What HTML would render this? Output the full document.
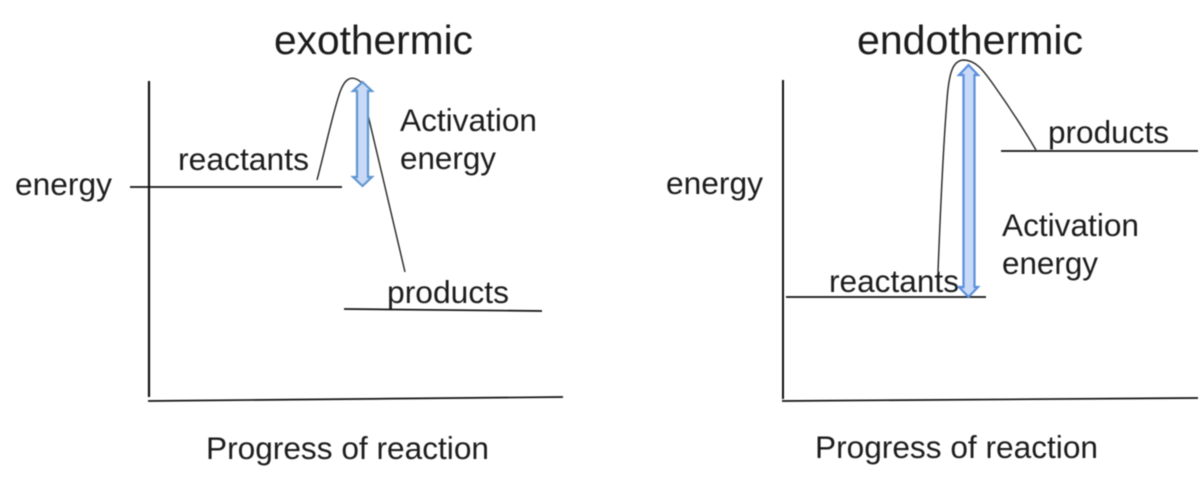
<!DOCTYPE html>
<html>
<head>
<meta charset="utf-8">
<style>
html,body{margin:0;padding:0;background:#fff;width:1200px;height:492px;overflow:hidden}
svg{display:block;filter:blur(0.4px)}
text{font-family:"Liberation Sans",Arial,sans-serif;fill:#1c1c1c}
</style>
</head>
<body>
<svg width="1200" height="492" viewBox="0 0 1200 492" xmlns="http://www.w3.org/2000/svg">
<g font-size="40.5">
<text x="274" y="54" textLength="199" lengthAdjust="spacingAndGlyphs">exothermic</text>
<text x="857" y="54" textLength="226" lengthAdjust="spacingAndGlyphs">endothermic</text>
</g>
<g font-size="31.5">
<text x="400" y="131" textLength="137" lengthAdjust="spacingAndGlyphs">Activation</text>
<text x="400" y="169" textLength="96" lengthAdjust="spacingAndGlyphs">energy</text>
<text x="1002" y="236" textLength="137" lengthAdjust="spacingAndGlyphs">Activation</text>
<text x="1002" y="274" textLength="96" lengthAdjust="spacingAndGlyphs">energy</text>
<text x="178" y="170" textLength="131" lengthAdjust="spacingAndGlyphs">reactants</text>
<text x="387" y="303" textLength="122" lengthAdjust="spacingAndGlyphs">products</text>
<text x="829" y="292" textLength="130" lengthAdjust="spacingAndGlyphs">reactants</text>
<text x="1048" y="143" textLength="121" lengthAdjust="spacingAndGlyphs">products</text>
<text x="15" y="195" textLength="97" lengthAdjust="spacingAndGlyphs">energy</text>
<text x="666" y="194" textLength="97" lengthAdjust="spacingAndGlyphs">energy</text>
<text x="206" y="459" textLength="283" lengthAdjust="spacingAndGlyphs">Progress of reaction</text>
<text x="815" y="458" textLength="283" lengthAdjust="spacingAndGlyphs">Progress of reaction</text>
</g>
<g fill="none" stroke="#111" stroke-width="1.7">
<path d="M149 81V397" stroke-width="2.2"/>
<path d="M148 401L563 397"/>
<path d="M130 187H342"/>
<path d="M344 309L542 311"/>
<path d="M783 80V399" stroke-width="2"/>
<path d="M782 401L1198 398"/>
<path d="M786 297H986"/>
<path d="M1001 151H1198"/>
</g>
<g fill="none" stroke="#222" stroke-width="1.4">
<path d="M317 180C325 150 333 112 340 92C345 78 351 77 356 79C359 80 361 82 363 84"/>
<path d="M368 115C380 165 395 230 405 272"/>
<path d="M938 272C940 220 943 150 947 100C949 72 953 61 963 60C977 60 985 73 993 84C1008 105 1023 128 1036 150"/>
</g>
<g fill="#c9daf8" stroke-width="2.2">
<path d="M362.500 82L372 91H368V177H372L362.500 186L353 177H357V91H353Z" stroke="#5f97d0"/>
<path d="M968.500 65L978 75H974.500V287H978L968.500 297L959 287H963.500V75H959Z" stroke="#5b8fdc"/>
</g>
</svg>
</body>
</html>
